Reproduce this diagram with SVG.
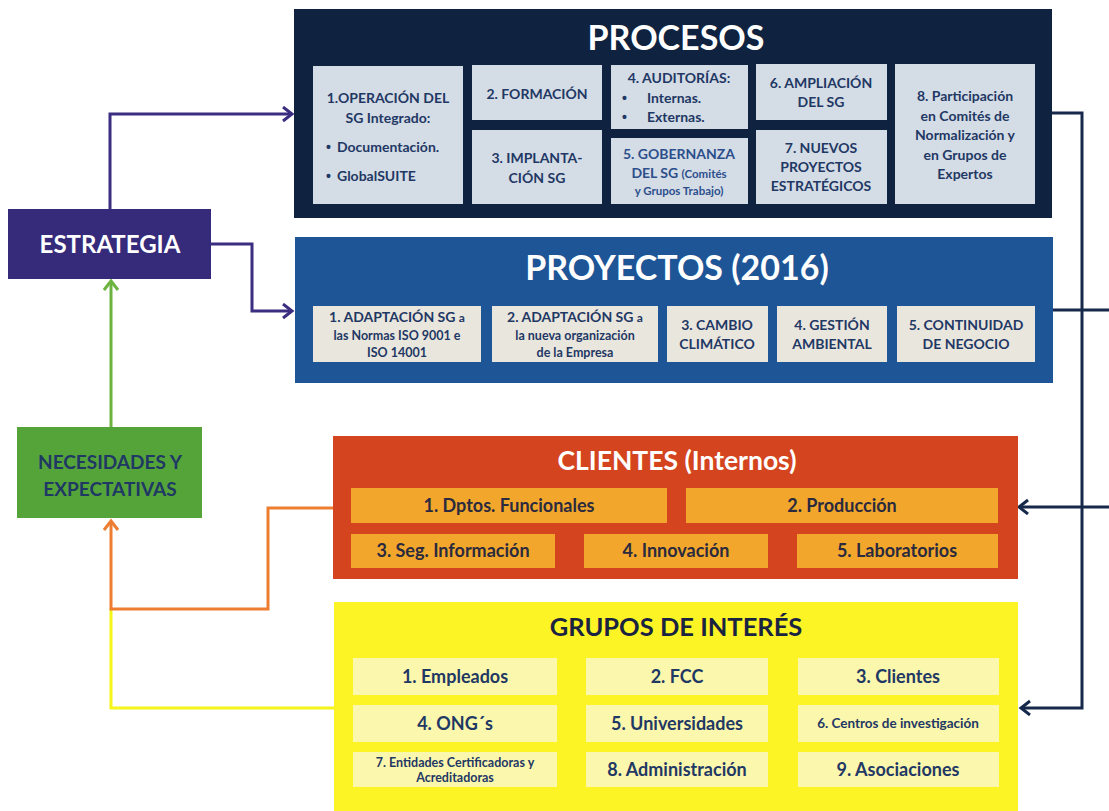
<svg xmlns="http://www.w3.org/2000/svg" width="1109" height="811" viewBox="0 0 1109 811">
<style>
text{font-family:Lato,"Open Sans","Liberation Sans",sans-serif;font-weight:bold}
.c{text-anchor:middle}
.title{fill:#ffffff;font-size:34px}
.pb{fill:#d4dce6}
.pt{fill:#1f3864;font-size:14px}
.bu{fill:#1f3864;font-size:14px;font-family:"Liberation Sans",sans-serif}
.yb{fill:#e9e6de}
.yt{fill:#1f3864;font-size:14px}
.ys{fill:#1f3864;font-size:12.5px}
.cb{fill:#f2a72c}
.ct{fill:#2b2a3e;font-size:18px}
.gb{fill:#fbf7ad}
.gt{fill:#1f3864;font-size:18px}
.gs{fill:#1f3864;font-size:12.5px}
.ln{fill:none;stroke-width:3}
</style>
<defs>
<marker id="aP" markerUnits="userSpaceOnUse" markerWidth="16" markerHeight="18" refX="12" refY="8" orient="auto"><path d="M3,1 L12,8 L3,15" fill="none" stroke="#3b2d80" stroke-width="3"/></marker>
<marker id="aG" markerUnits="userSpaceOnUse" markerWidth="16" markerHeight="18" refX="12" refY="8" orient="auto"><path d="M3,1 L12,8 L3,15" fill="none" stroke="#6cb33f" stroke-width="3"/></marker>
<marker id="aO" markerUnits="userSpaceOnUse" markerWidth="16" markerHeight="18" refX="12" refY="8" orient="auto"><path d="M3,1 L12,8 L3,15" fill="none" stroke="#ed7d31" stroke-width="3"/></marker>
<marker id="aN" markerUnits="userSpaceOnUse" markerWidth="16" markerHeight="18" refX="12" refY="8" orient="auto"><path d="M3,1 L12,8 L3,15" fill="none" stroke="#16294a" stroke-width="3"/></marker>
</defs>
<rect width="1109" height="811" fill="#ffffff"/>

<g id="connectors">
<path class="ln" stroke="#3b2d80" d="M110,209 V114 H292" marker-end="url(#aP)"/>
<path class="ln" stroke="#3b2d80" d="M211,244 H252 V311 H292" marker-end="url(#aP)"/>
<path class="ln" stroke="#6cb33f" d="M111,427 V281" marker-end="url(#aG)"/>
<path class="ln" stroke="#f5f51a" d="M334,708 H111 V609"/>
<path class="ln" stroke="#ed7d31" d="M333,508 H268 V609 H111 V521" marker-end="url(#aO)"/>
<path class="ln" stroke="#16294a" d="M1052,113 H1082 V708 H1021" marker-end="url(#aN)"/>
<path class="ln" stroke="#16294a" d="M1053,310 H1109"/>
<path class="ln" stroke="#16294a" d="M1109,507 H1019" marker-end="url(#aN)"/>
</g>

<g id="procesos">
<rect x="294" y="9" width="758" height="209" fill="#0f2340"/>
<text class="title c" x="676" y="50">PROCESOS</text>
<rect class="pb" x="313" y="66" width="150" height="138"/>
<text class="pt c" x="388" y="103">1.OPERACIÓN DEL</text>
<text class="pt c" x="388" y="123">SG Integrado:</text>
<text class="bu" x="326" y="152">•</text><text class="pt" x="337" y="152">Documentación.</text>
<text class="bu" x="326" y="181">•</text><text class="pt" x="337" y="181">GlobalSUITE</text>
<rect class="pb" x="472" y="65" width="130" height="55"/>
<text class="pt c" x="537" y="99">2. FORMACIÓN</text>
<rect class="pb" x="472" y="130" width="130" height="74"/>
<text class="pt c" x="537" y="163">3. IMPLANTA-</text>
<text class="pt c" x="537" y="183">CIÓN SG</text>
<rect class="pb" x="611" y="65" width="137" height="64"/>
<text class="pt c" x="679" y="83">4. AUDITORÍAS:</text>
<text class="bu" x="622" y="103">•</text><text class="pt" x="647" y="103">Internas.</text>
<text class="bu" x="622" y="122">•</text><text class="pt" x="647" y="122">Externas.</text>
<rect class="pb" x="611" y="138" width="137" height="66"/>
<text class="pt c" x="679" y="159" style="fill:#2c4f8c">5. GOBERNANZA</text>
<text class="pt c" x="679" y="178" style="fill:#2c4f8c">DEL SG <tspan font-size="11.5">(Comités</tspan></text>
<text class="pt c" x="679" y="195" style="fill:#2c4f8c;font-size:11.5px">y Grupos Trabajo)</text>
<rect class="pb" x="756" y="64" width="131" height="56"/>
<text class="pt c" x="821" y="88">6. AMPLIACIÓN</text>
<text class="pt c" x="821" y="107">DEL SG</text>
<rect class="pb" x="756" y="130" width="131" height="74"/>
<text class="pt c" x="821" y="153">7. NUEVOS</text>
<text class="pt c" x="821" y="172">PROYECTOS</text>
<text class="pt c" x="821" y="191">ESTRATÉGICOS</text>
<rect class="pb" x="895" y="64" width="140" height="140"/>
<text class="pt c" x="965" y="101">8. Participación</text>
<text class="pt c" x="965" y="121">en Comités de</text>
<text class="pt c" x="965" y="140">Normalización y</text>
<text class="pt c" x="965" y="160">en Grupos de</text>
<text class="pt c" x="965" y="179">Expertos</text>
</g>

<g id="proyectos">
<rect x="295" y="237" width="758" height="146" fill="#1e5597"/>
<text class="title c" x="677" y="280">PROYECTOS (2016)</text>
<rect class="yb" x="313" y="306" width="168" height="56"/>
<text class="yt c" x="397" y="322">1. ADAPTACIÓN SG <tspan font-size="12">a</tspan></text>
<text class="ys c" x="397" y="340">las Normas ISO 9001 e</text>
<text class="ys c" x="397" y="357">ISO 14001</text>
<rect class="yb" x="492" y="306" width="166" height="56"/>
<text class="yt c" x="575" y="322">2. ADAPTACIÓN SG <tspan font-size="12">a</tspan></text>
<text class="ys c" x="575" y="340">la nueva organización</text>
<text class="ys c" x="575" y="357">de la Empresa</text>
<rect class="yb" x="667" y="306" width="101" height="56"/>
<text class="yt c" x="717" y="330">3. CAMBIO</text>
<text class="yt c" x="717" y="349">CLIMÁTICO</text>
<rect class="yb" x="777" y="306" width="110" height="56"/>
<text class="yt c" x="832" y="330">4. GESTIÓN</text>
<text class="yt c" x="832" y="349">AMBIENTAL</text>
<rect class="yb" x="897" y="306" width="138" height="56"/>
<text class="yt c" x="966" y="330">5. CONTINUIDAD</text>
<text class="yt c" x="966" y="349">DE NEGOCIO</text>
</g>

<g id="estrategia">
<rect x="8" y="209" width="203" height="70" fill="#362a7a"/>
<text class="c" x="110" y="253" fill="#ffffff" font-size="24">ESTRATEGIA</text>
</g>

<g id="necesidades">
<rect x="17" y="427" width="185" height="91" fill="#55a43a"/>
<text class="c" x="110" y="469" fill="#1f3864" font-size="19">NECESIDADES Y</text>
<text class="c" x="110" y="496" fill="#1f3864" font-size="19">EXPECTATIVAS</text>
</g>

<g id="clientes">
<rect x="333" y="436" width="685" height="143" fill="#d4441f"/>
<text class="c" x="677" y="470" fill="#ffffff" font-size="26.5">CLIENTES (Internos)</text>
<rect class="cb" x="351" y="488" width="316" height="35"/>
<text class="ct c" x="509" y="512">1. Dptos. Funcionales</text>
<rect class="cb" x="686" y="488" width="312" height="35"/>
<text class="ct c" x="842" y="512">2. Producción</text>
<rect class="cb" x="351" y="534" width="204" height="34"/>
<text class="ct c" x="453" y="557">3. Seg. Información</text>
<rect class="cb" x="584" y="534" width="184" height="34"/>
<text class="ct c" x="676" y="557">4. Innovación</text>
<rect class="cb" x="797" y="534" width="201" height="34"/>
<text class="ct c" x="897" y="557">5. Laboratorios</text>
</g>

<g id="grupos">
<rect x="334" y="602" width="684" height="209" fill="#fdf425"/>
<text class="c" x="676" y="636" fill="#1a2440" font-size="25.5">GRUPOS DE INTERÉS</text>
<rect class="gb" x="353" y="658" width="204" height="37"/>
<text class="gt c" x="455" y="683">1. Empleados</text>
<rect class="gb" x="586" y="658" width="182" height="37"/>
<text class="gt c" x="677" y="683">2. FCC</text>
<rect class="gb" x="798" y="658" width="201" height="37"/>
<text class="gt c" x="898" y="683">3. Clientes</text>
<rect class="gb" x="353" y="705" width="204" height="37"/>
<text class="gt c" x="455" y="730">4. ONG´s</text>
<rect class="gb" x="586" y="705" width="182" height="37"/>
<text class="gt c" x="677" y="730">5. Universidades</text>
<rect class="gb" x="798" y="705" width="201" height="37"/>
<text class="gs c" x="898" y="728" style="font-size:13.5px">6. Centros de investigación</text>
<rect class="gb" x="353" y="752" width="204" height="35"/>
<text class="gs c" x="455" y="767">7. Entidades Certificadoras y</text>
<text class="gs c" x="455" y="782">Acreditadoras</text>
<rect class="gb" x="586" y="752" width="182" height="35"/>
<text class="gt c" x="677" y="776">8. Administración</text>
<rect class="gb" x="798" y="752" width="201" height="35"/>
<text class="gt c" x="898" y="776">9. Asociaciones</text>
</g>
</svg>
